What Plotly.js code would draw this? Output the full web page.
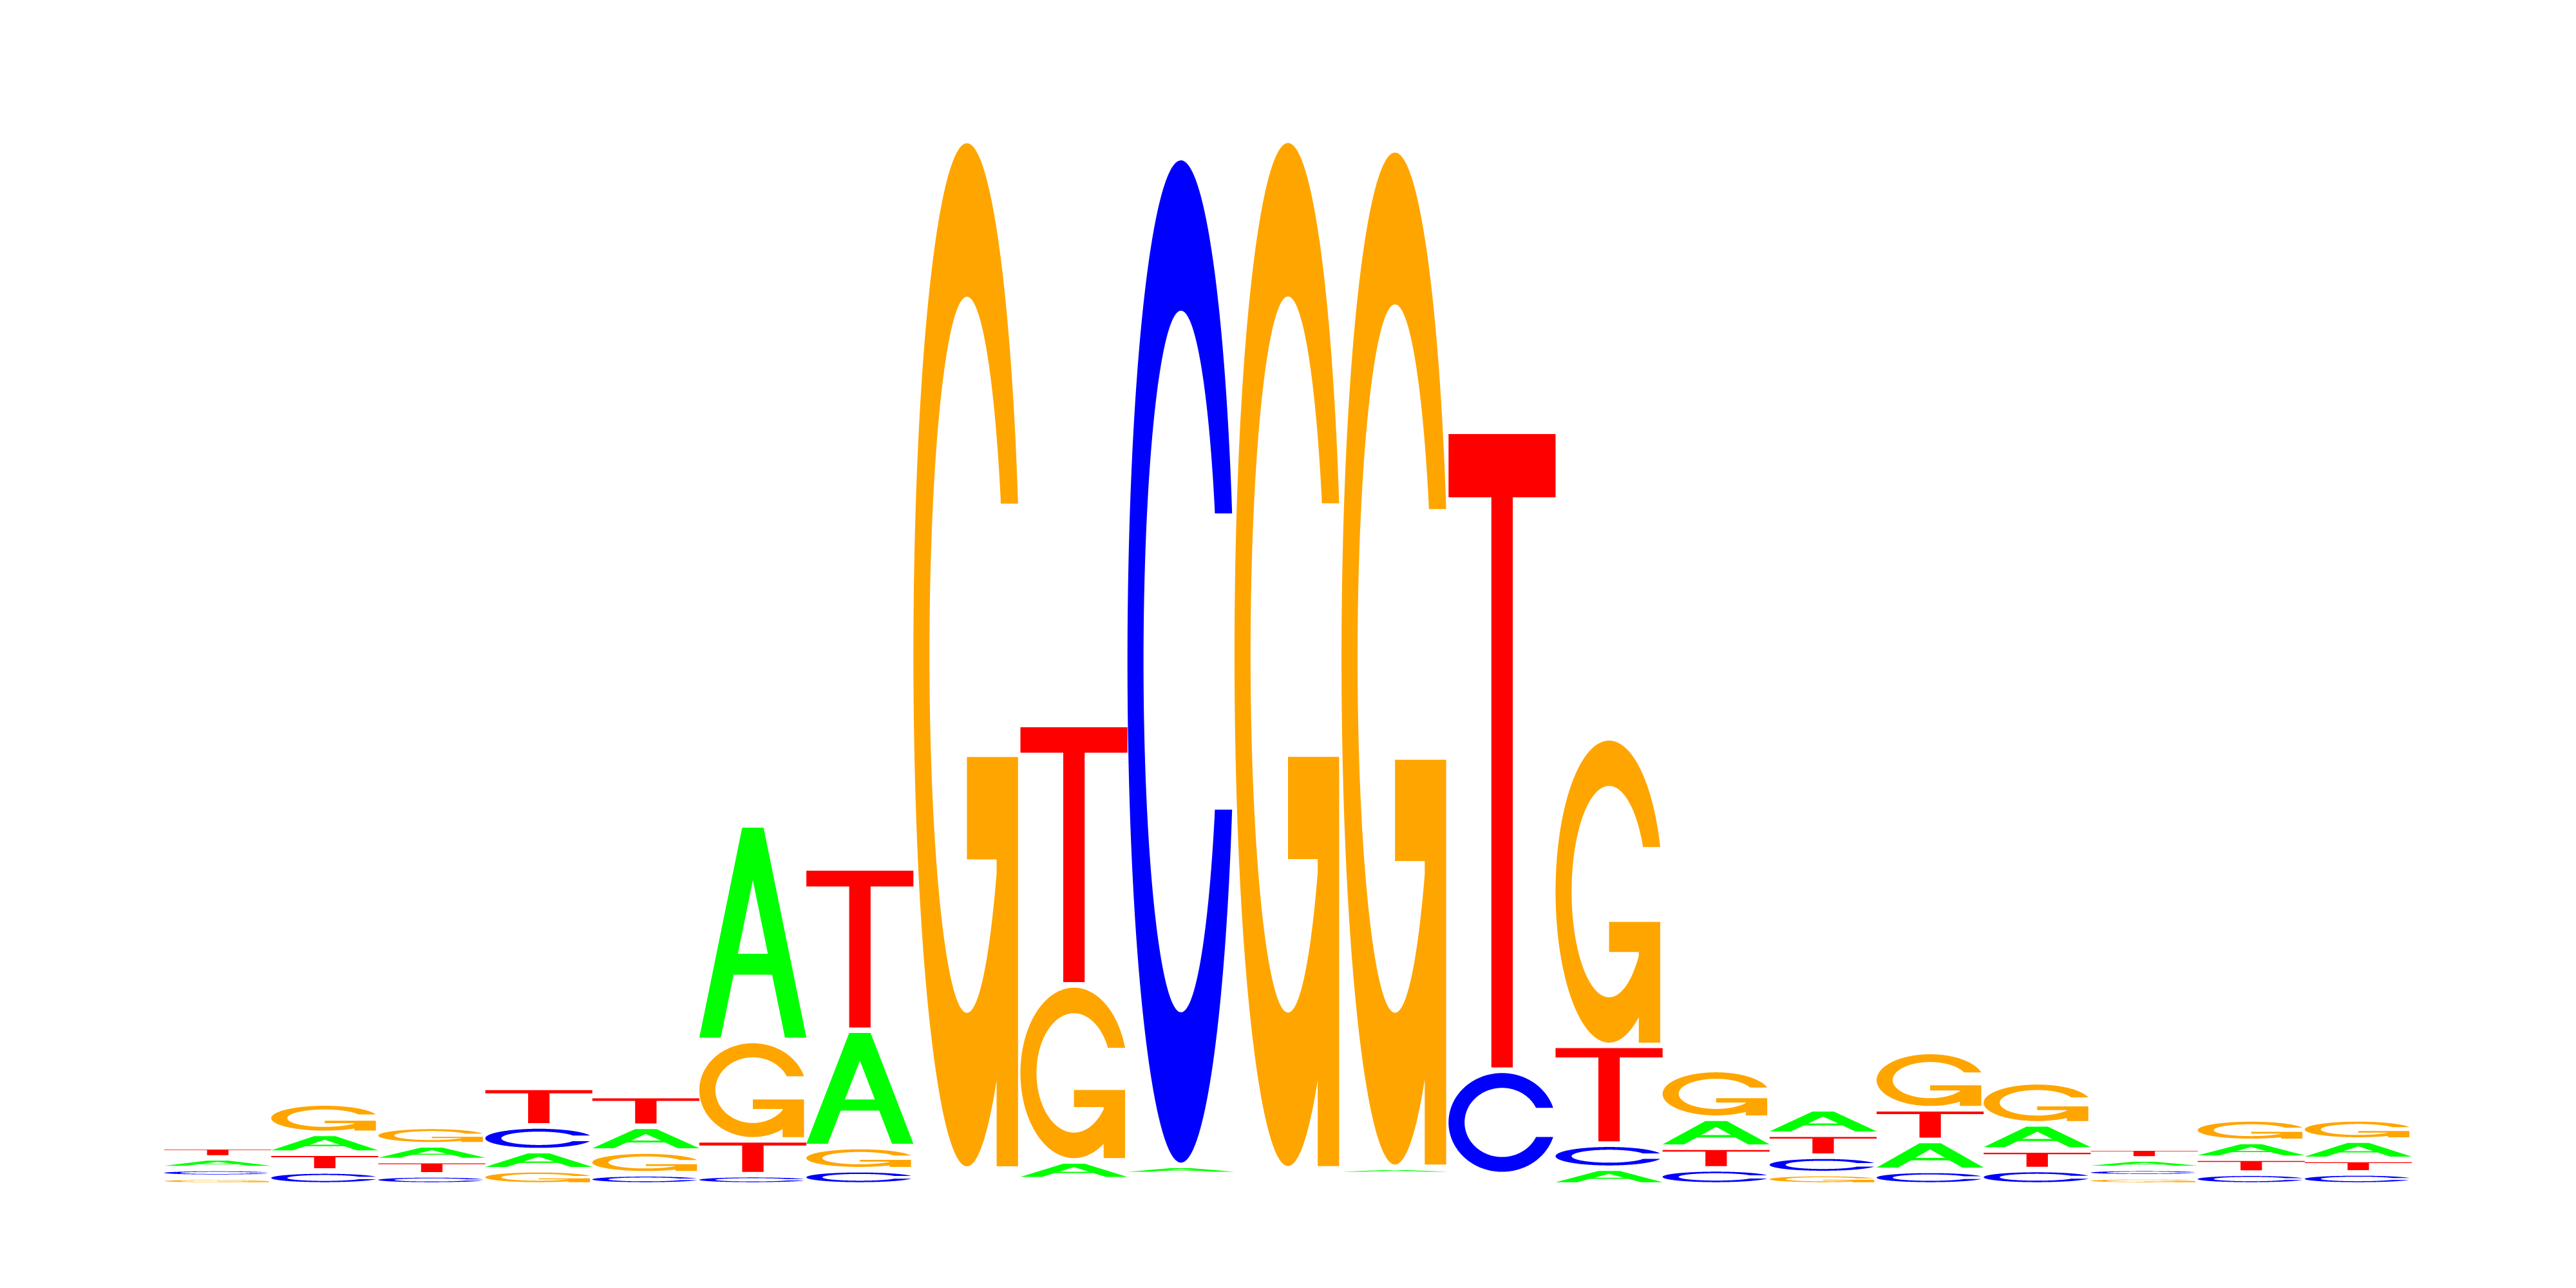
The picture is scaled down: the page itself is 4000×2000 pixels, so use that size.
<!DOCTYPE html>
<html>
<head>
<meta charset="utf-8">
<script src="https://cdn.plot.ly/plotly-3.0.1.min.js"></script>
<style>html,body{margin:0;padding:0;background:#ffffff;}</style>
</head>
<body>
<div id="chart" style="width:4000px;height:2000px;"></div>
<script>
// ---- data (information content in bits per base, per position) ----
const positions = [1,2,3,4,5,6,7,8,9,10,11,12,13,14,15,16,17,18,19,20,21];
const bases = ["A","C","G","T"];
const heightA = [0.0201,0.0374,0.0298,0.0361,0.0471,0.4082,0.2202,0.0098,0.0357,0.0174,0.0100,0.0138,0.0098,0.0317,0.0549,0.0479,0.0565,0.0495,0.0178,0.0317,0.0366];
const heightC = [0.0165,0.0265,0.0191,0.0467,0.0211,0.0195,0.0289,0.0098,0.0098,1.9085,0.0100,0.0098,0.1976,0.0455,0.0305,0.0329,0.0277,0.0293,0.0159,0.0223,0.0228];
const heightG = [0.0146,0.0577,0.0349,0.0289,0.0430,0.1882,0.0439,1.9479,0.3334,0.0098,1.9479,1.9268,0.0098,0.5824,0.0922,0.0216,0.1085,0.0796,0.0155,0.0427,0.0402];
const heightT = [0.0213,0.0337,0.0272,0.0732,0.0580,0.0659,0.3073,0.0104,0.4933,0.0098,0.0105,0.0098,1.2102,0.1871,0.0410,0.0418,0.0601,0.0370,0.0207,0.0284,0.0256];
const baseColors = {A:"#00FF00", C:"#0000FF", G:"#FFA500", T:"#FF0000"};

// ---- style ----
const LETTER_WIDTH = 1.0;     // column width in x units
const PAD_BITS = 0.0053;      // small vertical gap around each letter

// ---- glyph outlines in a unit box ----
function linspace(a, b, n){ const r=[]; for(let i=0;i<n;i++) r.push(a+(b-a)*i/(n-1)); return r; }
function ringC(){
  const n = 100;
  const a1 = linspace(0.3+Math.PI/2, Math.PI, n);
  const a2 = linspace(Math.PI, 1.5*Math.PI, n);
  const xl1 = a1.map(a=>0.5+0.5*Math.sin(a)), yl1 = a1.map(a=>0.5+0.5*Math.cos(a));
  const xl2 = a2.map(a=>0.5+0.5*Math.sin(a)), yl2 = a2.map(a=>0.5+0.5*Math.cos(a));
  const xl = xl1.concat(xl2), yl = yl1.concat(yl2);
  const xo = xl.concat(xl.slice().reverse());
  const yo = yl.concat(yl.slice().reverse().map(v=>1-v));
  const maxY = Math.max(...yl1);
  let xi1 = a1.map(a=>0.5+0.35*Math.sin(a)), yi1 = a1.map(a=>0.5+0.35*Math.cos(a));
  const keep = yi1.map(v=>v<=maxY);
  xi1 = xi1.filter((v,k)=>keep[k]); yi1 = yi1.filter((v,k)=>keep[k]);
  yi1[0] = maxY;
  const xi2 = a2.map(a=>0.5+0.35*Math.sin(a)), yi2 = a2.map(a=>0.5+0.35*Math.cos(a));
  const xi = xi1.concat(xi2), yi = yi1.concat(yi2);
  const x1 = xi.concat(xi.slice().reverse());
  const y1 = yi.concat(yi.slice().reverse().map(v=>1-v));
  const pts = [];
  for(let k=0;k<xo.length;k++) pts.push([xo[k],yo[k]]);
  for(let k=x1.length-1;k>=0;k--) pts.push([x1[k],y1[k]]);
  return {pts, r1: Math.max(...xl1)};
}
const RING = ringC();
const GLYPHS = {
  A: [
    {hole:false, pts:[[0,0],[0.4,1],[0.6,1],[1,0],[0.8,0],[0.68,0.3],[0.32,0.3],[0.2,0]]},
    {hole:true,  pts:[[0.36,0.4],[0.5,0.75],[0.64,0.4]]}
  ],
  C: [ {hole:false, pts:RING.pts} ],
  G: [
    {hole:false, pts:RING.pts},
    {hole:false, pts:[[RING.r1,0.4],[0.5,0.4],[0.5,0.3],[RING.r1-0.2,0.3],[RING.r1-0.2,0],[RING.r1,0]]}
  ],
  T: [ {hole:false, pts:[[0,1],[1,1],[1,0.9],[0.6,0.9],[0.6,0],[0.4,0],[0.4,0.9],[0,0.9]]} ]
};
function signedArea(p){ let s=0; for(let i=0;i<p.length;i++){const a=p[i],b=p[(i+1)%p.length]; s+=a[0]*b[1]-b[0]*a[1];} return s/2; }
function oriented(sp){ const ccw = signedArea(sp.pts) > 0; const want = !sp.hole; return (ccw===want) ? sp.pts : sp.pts.slice().reverse(); }

const heights = {A:heightA, C:heightC, G:heightG, T:heightT};
const shapes = [];
positions.forEach((pos, i) => {
  const stack = bases.map(b => ({b, h: heights[b][i]})).sort((p,q)=>p.h-q.h);
  let base = 0;
  stack.forEach(({b,h}) => {
    const y0 = base + PAD_BITS, y1 = base + h - PAD_BITS;
    const x0 = pos - LETTER_WIDTH/2;
    if (y1 > y0) {
      const path = GLYPHS[b].map(sp => {
        const p = oriented(sp);
        return 'M' + p.map(([u,v]) => (x0+u*LETTER_WIDTH).toFixed(5)+','+(y0+v*(y1-y0)).toFixed(6)).join('L') + 'Z';
      }).join(' ');
      shapes.push({type:'path', xref:'x', yref:'y', path, fillcolor: baseColors[b], fillrule:'nonzero', line:{width:0}, layer:'above'});
    }
    base += h;
  });
});

const layout = {
  width: 4000, height: 2000,
  margin: {l:255, r:255, t:200, b:160},
  paper_bgcolor: '#ffffff', plot_bgcolor: '#ffffff',
  showlegend: false,
  xaxis: {range:[0.5, positions.length+0.5], visible:false, showgrid:false, zeroline:false, fixedrange:true},
  yaxis: {range:[0, 2], visible:false, showgrid:false, zeroline:false, fixedrange:true},
  shapes
};
Plotly.newPlot('chart', [{x:positions, y:positions.map(()=>null), type:'scatter', mode:'markers', hoverinfo:'skip'}], layout, {staticPlot:true, displayModeBar:false});
</script>
</body>
</html>
